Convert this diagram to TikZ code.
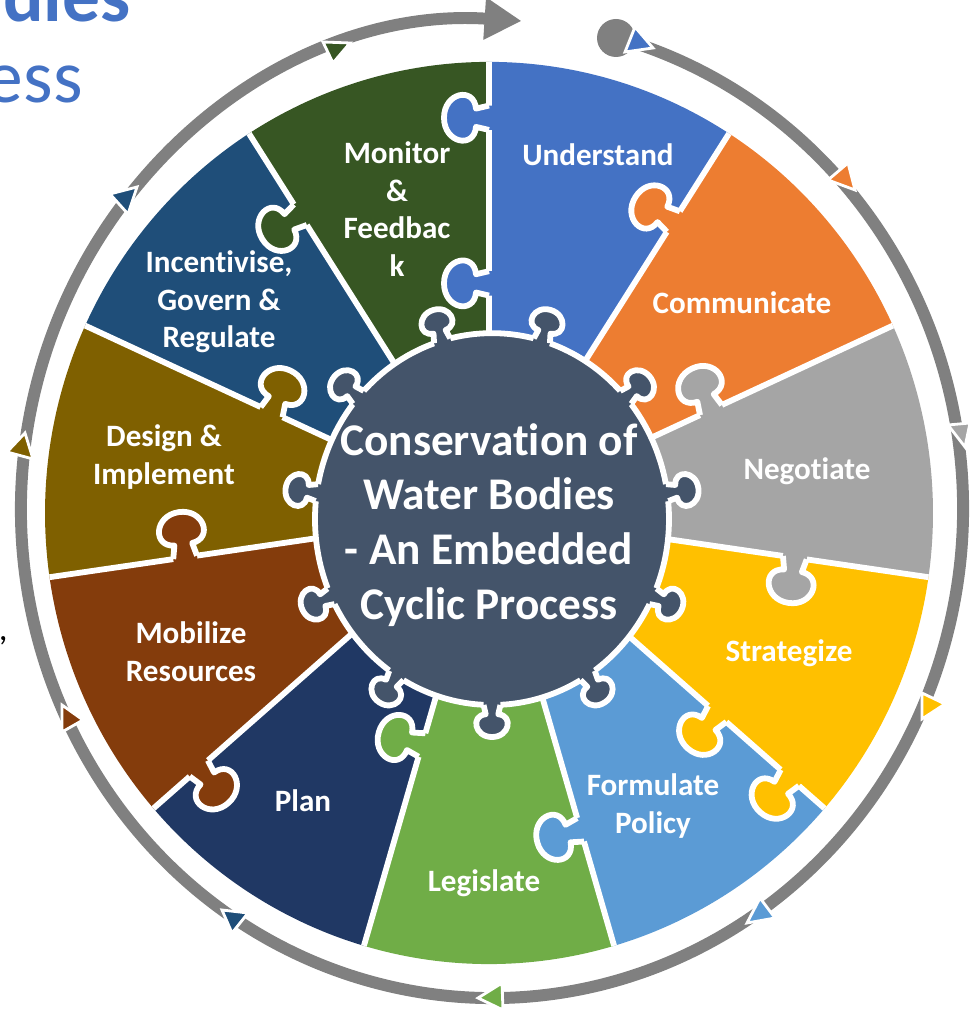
\documentclass[tikz,border=0pt]{standalone}
\usepackage{fontspec}
\setmainfont[Ligatures=NoCommon]{Carlito}
\usetikzlibrary{arrows.meta}
\definecolor{cUnderstand}{HTML}{4472C4}
\definecolor{cCommunicate}{HTML}{ED7D31}
\definecolor{cNegotiate}{HTML}{A5A5A5}
\definecolor{cStrategize}{HTML}{FFC000}
\definecolor{cFormulate}{HTML}{5B9BD5}
\definecolor{cLegislate}{HTML}{70AD47}
\definecolor{cPlan}{HTML}{203864}
\definecolor{cMobilize}{HTML}{843C0C}
\definecolor{cDesign}{HTML}{7F6000}
\definecolor{cIncentivise}{HTML}{1F4E79}
\definecolor{cMonitor}{HTML}{375623}
\definecolor{cDisc}{HTML}{44546A}
\definecolor{cRing}{HTML}{808080}
% jigsaw tab on a seam: colour, seam angle, radius, turn
\newcommand{\pieceknob}[4]{%
  \begin{scope}[shift={(#2:#3)}, rotate=#4]
    \fill[#1] (-12,-7) -- (-12,0) -- (-9,13) .. controls (-31,15) and (-25,45) .. (0,45)
      .. controls (25,45) and (31,15) .. (9,13) -- (12,0) -- (12,-7) -- cycle;
    \draw[seam] (-12,0) -- (-9,13) .. controls (-31,15) and (-25,45) .. (0,45)
      .. controls (25,45) and (31,15) .. (9,13) -- (12,0);
  \end{scope}}
% tab of the centre disc: angle
\newcommand{\discknob}[1]{%
  \begin{scope}[shift={(3,-6)}, shift={(#1:177 and 183)}, rotate=#1-90, scale=0.7]
    \fill[cDisc] (-12,-9) -- (-12,0) -- (-9,13) .. controls (-31,15) and (-25,45) .. (0,45)
      .. controls (25,45) and (31,15) .. (9,13) -- (12,0) -- (12,-9) -- cycle;
    \draw[seam] (-12,0) -- (-9,13) .. controls (-31,15) and (-25,45) .. (0,45)
      .. controls (25,45) and (31,15) .. (9,13) -- (12,0);
  \end{scope}}
\begin{document}
\begin{tikzpicture}[x=0.02cm, y=0.02cm,
  seam/.style={white, line width=3.3pt, line join=round},
  label/.style={text=white, font=\fontsize{17.7}{21.4}\selectfont\bfseries, align=center, inner sep=0pt},
  centre text/.style={text=white, font=\fontsize{25.8}{31.2}\selectfont\bfseries, align=center, inner sep=0pt},
  ring/.style={cRing, line width=6.8pt},
  marker/.style={draw=white, line width=1.6pt, line join=miter}]
  \useasboundingbox (0,0) rectangle (971,1011);
  % title fragments
  \node[anchor=base east, inner sep=0pt, text=cUnderstand, font=\fontsize{43}{50}\selectfont\bfseries] (titleA) at (131,989) {dies};
  \node[anchor=base east, inner sep=0pt, text=cUnderstand, font=\fontsize{43}{50}\selectfont] (titleB) at (83,908) {ess};
  \node[anchor=base east, inner sep=0pt, font=\fontsize{20}{24}\selectfont] (comma) at (8,370) {,};
  % puzzle wheel
  \begin{scope}[shift={(489,498)}, yscale=1.016]
    \foreach \col [count=\i from 0] in {cUnderstand, cCommunicate, cNegotiate, cStrategize,
        cFormulate, cLegislate, cPlan, cMobilize, cDesign, cIncentivise, cMonitor} {
      \pgfmathsetmacro\a{90-32.7273*\i}
      \fill[\col] (0,0) -- (\a:444) arc[start angle=\a, end angle=\a-32.7273, radius=444] -- cycle;
    }
    \foreach \i in {0,...,10}
      \draw[seam] (0,0) -- ({90-32.7273*\i}:444);
    \pieceknob{cUnderstand}{90}{389}{90}
    \pieceknob{cUnderstand}{90}{226}{90}
    \pieceknob{cCommunicate}{57.27}{341}{57.27}
    \pieceknob{cNegotiate}{24.55}{244}{24.55}
    \pieceknob{cNegotiate}{-8.18}{309}{171.82}
    \pieceknob{cStrategize}{-40.91}{302}{139.09}
    \pieceknob{cStrategize}{-40.91}{398}{139.09}
    \pieceknob{cFormulate}{-73.64}{325}{106.36}
    \pieceknob{cLegislate}{-106.36}{238}{73.64}
    \pieceknob{cMobilize}{-139.09}{384}{-139.09}
    \pieceknob{cMobilize}{-171.82}{307}{8.18}
    \pieceknob{cDesign}{155.45}{239}{335.45}
    \pieceknob{cMonitor}{122.73}{349}{122.73}
    % centre disc
    \fill[cDisc] (3,-6) ellipse[x radius=177, y radius=183];
    \draw[seam] (3,-6) ellipse[x radius=177, y radius=183];
    \foreach \i in {0,...,10} {
      \pgfmathsetmacro\m{73.6364-32.7273*\i}
      \discknob{\m}
    }
  \end{scope}
  % labels
  \node[label] (understand) at (598,856) {Understand};
  \node[label] (communicate) at (742,708) {Communicate};
  \node[label] (negotiate) at (807,540) {Negotiate};
  \node[label] (strategize) at (789,358) {Strategize};
  \node[label] (formulate) at (653,205) {Formulate\\Policy};
  \node[label] (legislate) at (484,128) {Legislate};
  \node[label] (plan) at (303,210) {Plan};
  \node[label] (mobilize) at (191,359) {Mobilize\\Resources};
  \node[label] (design) at (164,554) {Design \&\\Implement};
  \node[label] (incentivise) at (219,709) {Incentivise,\\Govern \&\\Regulate};
  \node[label] (monitor) at (397,802) {Monitor\\\&\\Feedbac\\k};
  \node[centre text] (centre) at (489,486) {Conservation of\\Water Bodies\\- An Embedded\\Cyclic Process};
  % cycle ring
  \draw[ring, -{Triangle[length=0.74cm, width=0.8cm]}] (492,502) ++(75.2:471 and 489)
    arc[start angle=75.2, end angle=-273.6, x radius=471, y radius=489];
  \fill[cRing] (616,973) circle[radius=19];
  \filldraw[marker, fill=cUnderstand] (635,984) -- (625,959) -- (653,963) -- cycle;
  \filldraw[marker, fill=cCommunicate] (848,848) -- (828,831) -- (855,821) -- cycle;
  \filldraw[marker, fill=cNegotiate] (948,586) -- (970,588) -- (965,564) -- cycle;
  \filldraw[marker, fill=cStrategize] (922,318) -- (945,307) -- (922,292) -- cycle;
  \filldraw[marker, fill=cFormulate] (760,113) -- (747,88) -- (775,93) -- cycle;
  \filldraw[marker, fill=cLegislate] (478,13) -- (502,28) -- (503,1) -- cycle;
  \filldraw[marker, fill=cIncentivise] (222,101) -- (248,98) -- (232,78) -- cycle;
  \filldraw[marker, fill=cMobilize] (62,306) -- (83,291) -- (62,279) -- cycle;
  \filldraw[marker, fill=cDesign] (25,578) -- (7,559) -- (33,552) -- cycle;
  \filldraw[marker, fill=cIncentivise] (110,817) -- (137,824) -- (128,797) -- cycle;
  \filldraw[marker, fill=cMonitor] (323,969) -- (350,968) -- (333,948) -- cycle;
\end{tikzpicture}
\end{document}
